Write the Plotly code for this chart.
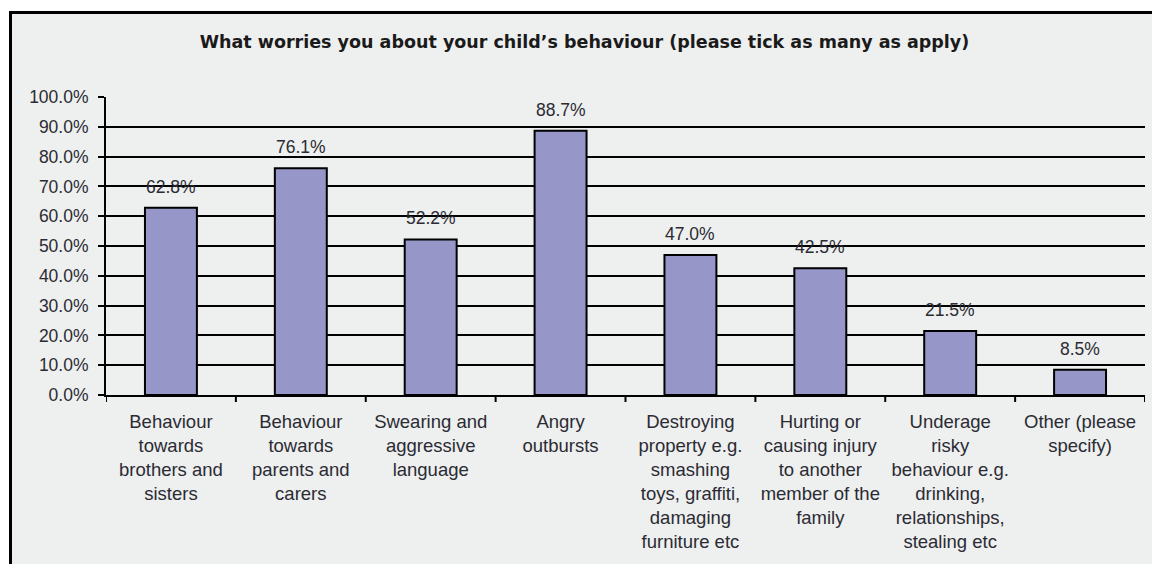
import plotly.graph_objects as go

# Survey responses: share of parents ticking each concern
categories = [
    "Behaviour<br>towards<br>brothers and<br>sisters",
    "Behaviour<br>towards<br>parents and<br>carers",
    "Swearing and<br>aggressive<br>language",
    "Angry<br>outbursts",
    "Destroying<br>property e.g.<br>smashing<br>toys, graffiti,<br>damaging<br>furniture etc",
    "Hurting or<br>causing injury<br>to another<br>member of the<br>family",
    "Underage<br>risky<br>behaviour e.g.<br>drinking,<br>relationships,<br>stealing etc",
    "Other (please<br>specify)",
]
percent = [62.8, 76.1, 52.2, 88.7, 47.0, 42.5, 21.5, 8.5]
y_ticks = [0, 10, 20, 30, 40, 50, 60, 70, 80, 90, 100]

W, H = 1152, 564
ML, MR, MT, MB = 106, 7, 97, 169
PW, PH = W - ML - MR, H - MT - MB

TEXT = "#2b2b33"
FONT = "Liberation Sans, Arial, sans-serif"

x_idx = list(range(len(categories)))

fig = go.Figure(
    go.Bar(
        x=x_idx,
        y=percent,
        width=0.4,
        marker=dict(color="#9696c9", line=dict(color="black", width=2)),
        hoverinfo="skip",
    )
)

# value labels above each bar
for i, v in zip(x_idx, percent):
    fig.add_annotation(
        x=i, y=v, text=f"{v:.1f}%", showarrow=False,
        yanchor="bottom", yshift=9,
        font=dict(family=FONT, size=17.5, color=TEXT),
    )

# outer chart frame (paper coordinates relative to plot area)
def px_x(p):
    return (p - ML) / PW

def px_y(p):
    return 1 - (p - MT) / PH

fig.add_shape(
    type="rect", xref="paper", yref="paper", layer="below",
    x0=px_x(10.5), x1=px_x(1200), y0=px_y(600), y1=px_y(12.5),
    line=dict(color="black", width=3), fillcolor="#eeefef",
)

fig.update_layout(
    width=W, height=H,
    margin=dict(l=ML, r=MR, t=MT, b=MB),
    paper_bgcolor="white",
    plot_bgcolor="rgba(0,0,0,0)",
    showlegend=False,
    bargap=0.6,
    title=dict(
        text="<b>What worries you about your child\u2019s behaviour (please tick as many as apply)</b>",
        x=584.5 / W, xanchor="center", xref="container",
        y=1 - 42 / H, yanchor="middle", yref="container",
        font=dict(family="DejaVu Sans, Verdana, sans-serif", size=17.5, color="#1a1a1a"),
    ),
    xaxis=dict(
        type="linear",
        range=[-0.5, len(categories) - 0.5],
        tickmode="array",
        tickvals=x_idx,
        ticktext=categories,
        ticks="", showgrid=False,
        showline=True, linecolor="black", linewidth=2,
        tickfont=dict(family=FONT, size=18.5, color=TEXT),
        ticklabelstandoff=9,
        zeroline=False,
    ),
    yaxis=dict(
        range=[0, 100],
        tickmode="array",
        tickvals=y_ticks,
        ticktext=[f"{t:.1f}%" for t in y_ticks],
        ticks="outside", ticklen=6, tickwidth=2, tickcolor="black",
        showgrid=True, gridcolor="black", gridwidth=2,
        showline=True, linecolor="black", linewidth=2,
        zeroline=False,
        tickfont=dict(family=FONT, size=17.5, color=TEXT),
        ticklabelstandoff=6,
    ),
)

# category boundary ticks below the x axis
for b in [i - 0.5 for i in range(len(categories) + 1)]:
    fig.add_shape(
        type="line", xref="x", yref="paper",
        x0=b, x1=b, y0=0, y1=-7 / PH,
        line=dict(color="black", width=2),
    )

fig.write_html("out.html")
